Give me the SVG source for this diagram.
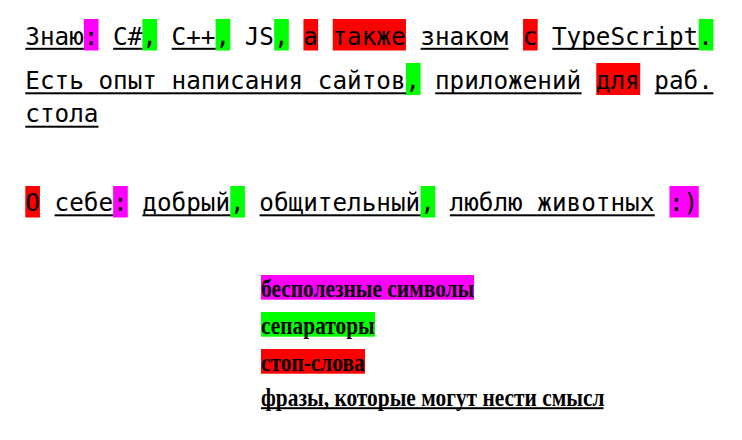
<svg xmlns="http://www.w3.org/2000/svg" width="742" height="440" viewBox="0 0 742 440">
<style>
.mono{font-family:"DejaVu Sans Mono",monospace;font-size:24.3px;fill:#000}
.leg{font-family:"Liberation Serif","Times New Roman",serif;font-size:21.4px;font-weight:bold;fill:#000}
.mg{fill:#ff00ff}
.gr{fill:#00ff00}
.rd{fill:#ff0000}
.ul{fill:#000}
</style>
<rect width="742" height="440" fill="#fff"/>
<g id="highlights">
  <rect class="mg" x="83.86" y="19" width="14.64" height="31.5"/>
  <rect class="gr" x="142.42" y="19" width="14.64" height="31.5"/>
  <rect class="gr" x="215.62" y="19" width="14.64" height="31.5"/>
  <rect class="gr" x="274.18" y="19" width="14.64" height="31.5"/>
  <rect class="rd" x="303.46" y="19" width="14.64" height="31.5"/>
  <rect class="rd" x="332.74" y="19" width="73.2" height="31.5"/>
  <rect class="rd" x="523.06" y="19" width="14.64" height="31.5"/>
  <rect class="gr" x="698.74" y="19" width="14.64" height="31.5"/>
  <rect class="gr" x="405.94" y="63" width="14.64" height="32"/>
  <rect class="rd" x="596.26" y="63" width="43.92" height="32"/>
  <rect class="rd" x="25.3" y="186" width="14.64" height="31.5"/>
  <rect class="mg" x="113.14" y="186" width="14.64" height="31.5"/>
  <rect class="gr" x="230.26" y="186" width="14.64" height="31.5"/>
  <rect class="gr" x="420.58" y="186" width="14.64" height="31.5"/>
  <rect class="mg" x="669.46" y="186" width="29.28" height="31.5"/>
</g>
<g id="underlines">
  <rect class="ul" x="25.3" y="47.8" width="58.56" height="2"/>
  <rect class="ul" x="113.14" y="47.8" width="29.28" height="2"/>
  <rect class="ul" x="171.7" y="47.8" width="43.92" height="2"/>
  <rect class="ul" x="420.58" y="47.8" width="87.84" height="2"/>
  <rect class="ul" x="552.34" y="47.8" width="146.4" height="2"/>
  <rect class="ul" x="25.3" y="92.3" width="380.64" height="2"/>
  <rect class="ul" x="435.22" y="92.3" width="146.4" height="2"/>
  <rect class="ul" x="654.82" y="92.3" width="58.56" height="2"/>
  <rect class="ul" x="25.3" y="125.7" width="73.2" height="2"/>
  <rect class="ul" x="54.58" y="214.3" width="58.56" height="2"/>
  <rect class="ul" x="142.42" y="214.3" width="87.84" height="2"/>
  <rect class="ul" x="259.54" y="214.3" width="161.04" height="2"/>
  <rect class="ul" x="449.86" y="214.3" width="204.96" height="2"/>
</g>
<g id="text-block">
  <text id="line1" class="mono" x="25.3" y="44.5" xml:space="preserve">Знаю: C#, C++, JS, а также знаком с TypeScript.</text>
  <text id="line2" class="mono" x="25.3" y="89" xml:space="preserve">Есть опыт написания сайтов, приложений для раб.</text>
  <text id="line3" class="mono" x="25.3" y="122.4">стола</text>
  <text id="line4" class="mono" x="25.3" y="211" xml:space="preserve">О себе: добрый, общительный, люблю животных :)</text>
</g>
<g id="legend">
  <g id="legend-useless">
    <rect class="mg" x="261" y="275" width="213" height="24.7"/>
    <text class="leg" transform="translate(261,296.5) scale(1,1.22)">бесполезные символы</text>
  </g>
  <g id="legend-separators">
    <rect class="gr" x="261" y="312" width="114" height="24.7"/>
    <text class="leg" transform="translate(261,333.5) scale(1,1.22)">сепараторы</text>
  </g>
  <g id="legend-stopwords">
    <rect class="rd" x="261" y="349" width="104" height="24.7"/>
    <text class="leg" transform="translate(261,370.5) scale(1,1.22)">стоп-слова</text>
  </g>
  <g id="legend-phrases">
    <text class="leg" transform="translate(261,405.5) scale(1,1.22)">фразы, которые могут нести смысл</text>
    <rect class="ul" x="261" y="407.2" width="342.5" height="2"/>
  </g>
</g>
</svg>
